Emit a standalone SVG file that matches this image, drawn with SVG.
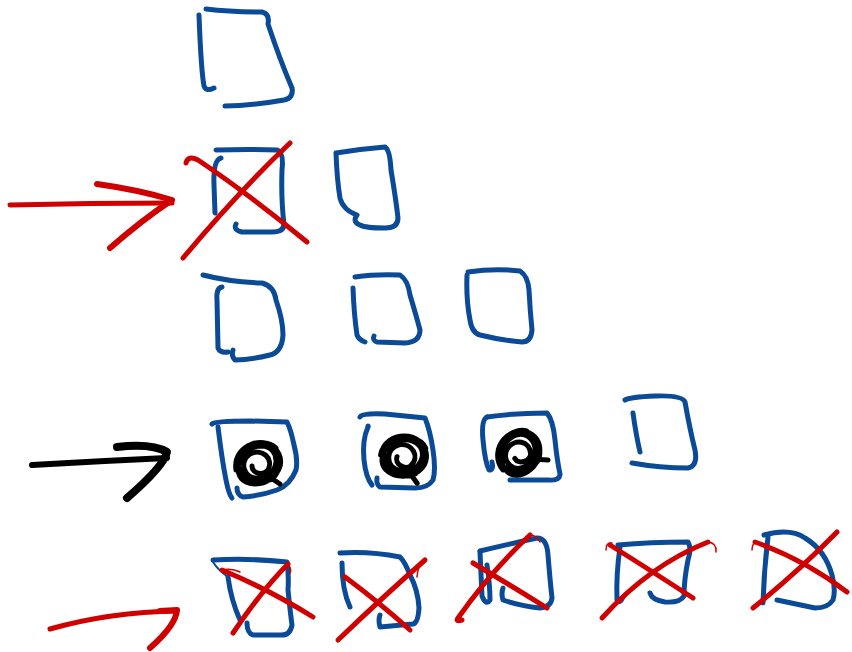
<svg xmlns="http://www.w3.org/2000/svg" width="852" height="652" viewBox="0 0 852 652">
<style>
.b{fill:none;stroke:#0b4a96;stroke-width:5;stroke-linecap:round;stroke-linejoin:round}
.bt{fill:none;stroke:#0b4a96;stroke-width:2;stroke-linecap:round}
.r{fill:none;stroke:#d10000;stroke-width:5;stroke-linecap:round;stroke-linejoin:round}
.rt{fill:none;stroke:#d10000;stroke-width:1.5;stroke-linecap:round}
.k{fill:none;stroke:#000;stroke-width:6;stroke-linecap:round;stroke-linejoin:round}
.s{fill:none;stroke:#000;stroke-width:5;stroke-linecap:round;stroke-linejoin:round}
</style>
<defs>
<path id="scr" d="M-22,8 C-26,-18 10,-30 21,-8 C29,10 6,28 -12,20 C-28,12 -18,-16 4,-16 C24,-15 22,14 2,16 C-14,18 -20,0 -8,-8 C4,-14 16,-4 10,8 C6,14 -6,12 -6,4 M-20,-4 C-22,14 -6,24 12,18 C20,14 24,2 18,-10 M10,14 L22,22 M-16,-10 C-8,-20 10,-22 18,-14"/>
</defs>
<rect width="852" height="652" fill="#fff"/>
<g id="connectors">
  <g id="arrow-red-1">
    <path class="r" d="M10,205 Q90,203 172,203"/>
    <path class="r" style="stroke-width:6" d="M97,184 Q140,190 172,200 Q142,220 110,248"/>
  </g>
  <g id="arrow-black">
    <path class="k" d="M32,465 Q100,461 167,458"/>
    <path class="k" style="stroke-width:8" d="M117,447 Q152,443 167,452 Q164,466 127,498"/>
  </g>
  <g id="arrow-red-2">
    <path class="r" d="M50,629 Q110,612 177,611"/>
    <path class="r" style="stroke-width:6" d="M160,611 L177,610 Q176,625 150,648"/>
  </g>
</g>
<g id="box-a">
  <path class="b" d="M199,15 C200,40 201,70 204,86 Q206,92 214,88"/>
  <path class="b" d="M206,9 Q230,12 262,12 Q270,14 268,24 Q280,60 292,88 Q294,98 284,100 Q250,106 225,106"/>
</g>
<g id="box-b1">
  <path class="b" d="M216,150 Q250,149 277,150 Q284,152 282,170 Q281,200 284,224 Q284,232 272,232 L242,232 Q233,230 236,224"/>
  <path class="b" d="M221,158 Q213,160 214,185 L215,213"/>
  <path class="r" d="M186,163 Q188,155 198,160 Q250,195 307,242"/>
  <path class="r" d="M290,143 Q240,190 183,258"/>
</g>
<g id="box-b2">
  <path class="b" d="M336,153 Q360,149 385,147 Q390,150 391,170 Q396,200 398,218 Q398,228 385,228 Q365,228 360,225 Q352,222 357,215 Q343,210 340,198 Q337,180 336,153"/>
</g>
<g id="box-c1">
  <path class="b" d="M203,275 Q230,282 262,283 Q274,286 276,300 Q283,320 283,335 Q282,352 270,355 Q250,360 235,360 Q231,356 233,350"/>
  <path class="b" d="M222,287 Q216,288 217,300 L218,348 Q220,353 228,352"/>
</g>
<g id="box-c2">
  <path class="b" d="M355,277 Q375,274 400,275 Q408,280 410,295 Q416,315 420,330 Q420,342 405,343 L377,342 Q372,340 374,336"/>
  <path class="b" d="M353,288 Q354,315 357,335 Q359,340 365,342"/>
</g>
<g id="box-c3">
  <path class="b" d="M468,272 Q495,268 520,271 Q528,276 529,290 Q530,310 532,330 Q531,342 522,342 Q500,340 480,335 Q472,333 470,320 Q466,300 467,275"/>
</g>
<g id="box-d1">
  <path class="b" d="M212,424 Q215,421 250,421 L287,422 Q291,430 294,445 Q298,460 296,470 Q290,485 277,490 Q260,496 243,497 Q237,495 237,488"/>
  <path class="b" d="M218,427 Q222,460 226,480 Q229,495 232,498"/>
  <use href="#scr" class="s" transform="translate(258,462)"/>
</g>
<g id="box-d2">
  <path class="b" d="M360,417 Q362,413 385,414 L425,418 Q430,430 433,450 Q436,470 433,480 Q428,488 415,488 L380,487 Q376,484 377,478"/>
  <path class="b" d="M368,427 Q362,440 364,460 Q366,478 372,485"/>
  <circle cx="368" cy="426" r="2.5" fill="#0b4a96"/>
  <use href="#scr" class="s" transform="translate(404,455) rotate(20)"/>
</g>
<g id="box-d3">
  <path class="b" d="M487,417 Q515,413 547,413 Q553,420 555,440 Q557,460 560,474 Q560,481 548,480 L510,480"/>
  <path class="b" d="M487,417 Q481,420 483,440 Q485,462 489,470 Q494,470 492,462"/>
  <use href="#scr" class="s" transform="translate(518,452) rotate(-30)"/>
</g>
<g id="box-d4">
  <path class="b" d="M625,400 Q630,397 655,396 Q682,395 685,402 Q690,430 695,450 Q698,466 688,468 Q660,468 632,463"/>
  <path class="b" d="M633,413 Q636,435 640,452"/>
</g>
<g id="box-e1">
  <path class="b" d="M213,560 Q250,558 287,562 Q289,575 288,590 Q290,610 292,625 Q290,636 280,635 L253,635 Q247,633 247,623"/>
  <path class="bt" d="M213,562 Q218,570 228,577"/>
  <path class="b" d="M228,577 Q231,600 240,620"/>
  <path class="rt" d="M222,570 Q232,568 240,572"/>
  <path class="r" d="M222,570 Q270,590 313,617"/>
  <path class="rt" d="M288,565 Q292,568 290,573"/>
  <path class="r" d="M288,564 Q262,590 233,633"/>
</g>
<g id="box-e2">
  <path class="b" d="M340,553 Q370,551 400,557 Q405,562 410,575 Q418,590 419,608 Q418,623 413,624 L380,627 Q378,620 380,615"/>
  <path class="b" d="M342,563 Q342,590 350,607"/>
  <path class="r" d="M345,577 Q380,603 410,630"/>
  <path class="rt" d="M417,577 Q418,563 425,560"/>
  <path class="r" d="M425,560 Q385,595 338,640"/>
</g>
<g id="box-e3">
  <path class="b" d="M480,551 Q505,545 537,538 Q547,538 548,555 Q550,580 552,598 Q551,607 540,608 Q520,606 503,600 Q501,594 503,588"/>
  <path class="b" d="M480,552 Q481,575 482,596 Q486,606 490,600 Q490,585 487,565"/>
  <path class="r" d="M473,563 Q510,585 547,608"/>
  <path class="rt" d="M530,535 Q536,535 540,542"/>
  <path class="r" d="M530,535 Q492,570 458,618 Q455,622 462,620"/>
</g>
<g id="box-e4">
  <path class="b" d="M618,545 Q650,542 688,542 Q692,548 688,560 Q684,580 684,596 Q680,603 665,602 Q652,600 650,593"/>
  <path class="b" d="M620,547 Q616,575 617,600 Q620,604 623,597"/>
  <path class="rt" d="M606,550 Q606,542 612,543"/>
  <path class="r" d="M610,545 Q650,570 693,598"/>
  <path class="rt" d="M708,542 Q717,543 716,552"/>
  <path class="r" d="M708,542 Q650,565 602,618"/>
</g>
<g id="box-e5">
  <path class="b" d="M764,535 Q790,528 805,538 Q825,550 832,575 Q836,590 833,600 Q828,608 815,608 L777,600"/>
  <path class="b" d="M768,537 Q764,570 763,603"/>
  <path class="rt" d="M752,550 Q752,542 758,542"/>
  <path class="r" d="M755,542 Q805,560 847,592"/>
  <path class="r" d="M837,532 Q800,570 753,608"/>
</g>
</svg>
